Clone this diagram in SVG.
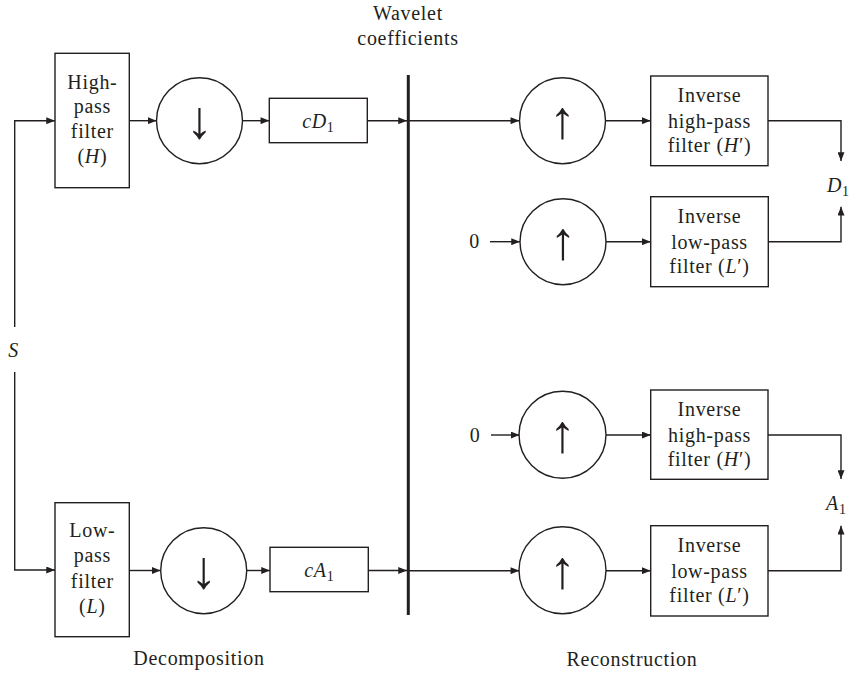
<svg xmlns="http://www.w3.org/2000/svg" width="856" height="673" viewBox="0 0 856 673">
<defs>
<marker id="ah" viewBox="0 0 10 8" refX="10" refY="4" markerWidth="9" markerHeight="7" markerUnits="userSpaceOnUse" orient="auto">
<path d="M0,0 L10,4 L0,8 Z" fill="#231f20"/>
</marker>
<style>
.box{fill:#fff;stroke:#231f20;stroke-width:1.4}
.c{fill:none;stroke:#231f20;stroke-width:1.4}
.ln{fill:none;stroke:#231f20;stroke-width:1.4}
.arr{fill:none;stroke:#231f20;stroke-width:1.4;marker-end:url(#ah)}
text{font-family:"Liberation Serif","Times New Roman",serif;font-size:20px;letter-spacing:0.7px;fill:#231f20;text-anchor:middle}
.sym{font-size:53px;letter-spacing:0}
.it{font-style:italic}
.sub{font-size:14px;letter-spacing:0}
</style>
</defs>
<rect width="856" height="673" fill="#fff"/>

<g id="connectors">
<line class="ln" x1="14.7" y1="120.7" x2="14.7" y2="327"/>
<line class="ln" x1="14.7" y1="372" x2="14.7" y2="570"/>
<line class="arr" x1="14" y1="120.7" x2="55" y2="120.7"/>
<line class="arr" x1="14" y1="570" x2="55" y2="570"/>
<line class="arr" x1="129" y1="120.7" x2="156.5" y2="120.7"/>
<line class="arr" x1="242.3" y1="120.7" x2="269.3" y2="120.7"/>
<line class="arr" x1="367.3" y1="120.7" x2="407" y2="120.7"/>
<line class="arr" x1="408" y1="120.7" x2="519.3" y2="120.7"/>
<line class="arr" x1="129" y1="570.5" x2="160.5" y2="570.5"/>
<line class="arr" x1="246.7" y1="570.5" x2="270" y2="570.5"/>
<line class="arr" x1="368.3" y1="570.5" x2="407" y2="570.5"/>
<line class="arr" x1="408" y1="570.7" x2="519.3" y2="570.7"/>
<line class="arr" x1="605.7" y1="120.7" x2="650.7" y2="120.7"/>
<line class="arr" x1="606" y1="241.7" x2="650.7" y2="241.7"/>
<line class="arr" x1="606" y1="435" x2="650.7" y2="435"/>
<line class="arr" x1="606" y1="570.7" x2="650.7" y2="570.7"/>
<line class="arr" x1="490" y1="241.7" x2="520" y2="241.7"/>
<line class="arr" x1="491" y1="435" x2="519.5" y2="435"/>
<polyline class="arr" points="768,120.7 841,120.7 841,161"/>
<polyline class="arr" points="768,241.7 841,241.7 841,206.7"/>
<polyline class="arr" points="768,435 841,435 841,479"/>
<polyline class="arr" points="768,570.7 841,570.7 841,525.7"/>
<line x1="408.3" y1="75" x2="408.3" y2="615" stroke="#231f20" stroke-width="3"/>
</g>

<g id="S"><text x="13.5" y="357" class="it">S</text></g>

<g id="hp">
<rect class="box" x="55" y="53.3" width="74.3" height="134.4"/>
<text x="92.4" y="88.5">High-</text>
<text x="92.4" y="112.5">pass</text>
<text x="92.4" y="138">filter</text>
<text x="92.4" y="162.5">(<tspan class="it">H</tspan>)</text>
</g>
<g id="down1">
<circle class="c" cx="199.5" cy="120.7" r="43"/>
<text class="sym" x="199.5" y="138">↓</text>
</g>
<g id="cD1">
<rect class="box" x="269.3" y="98.3" width="98" height="44.4"/>
<text x="318" y="128.3" class="it">cD<tspan class="sub" font-style="normal" dy="4">1</tspan></text>
</g>

<g id="lp">
<rect class="box" x="55" y="502.7" width="74.3" height="134"/>
<text x="92.4" y="536.7">Low-</text>
<text x="92.4" y="562">pass</text>
<text x="92.4" y="587.5">filter</text>
<text x="92.4" y="612.5">(<tspan class="it">L</tspan>)</text>
</g>
<g id="down2">
<circle class="c" cx="203.7" cy="570.7" r="43"/>
<text class="sym" x="203.7" y="588">↓</text>
</g>
<g id="cA1">
<rect class="box" x="270" y="547.3" width="98.3" height="44.4"/>
<text x="319" y="577.3" class="it">cA<tspan class="sub" font-style="normal" dy="4">1</tspan></text>
</g>

<g id="wavelet">
<text x="408" y="20">Wavelet</text>
<text x="408" y="45">coefficients</text>
</g>

<g id="up1">
<circle class="c" cx="562.5" cy="120.7" r="43"/>
<text class="sym" x="562.5" y="138">↑</text>
</g>
<g id="ihp1">
<rect class="box" x="650.7" y="76" width="117.3" height="89.7"/>
<text x="709.5" y="102">Inverse</text>
<text x="709.5" y="127.5">high-pass</text>
<text x="709.5" y="152">filter (<tspan class="it">H</tspan>′)</text>
</g>
<g id="zero1"><text x="474.5" y="248">0</text></g>
<g id="up2">
<circle class="c" cx="563" cy="241.7" r="43"/>
<text class="sym" x="563" y="259">↑</text>
</g>
<g id="ilp1">
<rect class="box" x="650.7" y="196.7" width="117.6" height="90"/>
<text x="709.5" y="223">Inverse</text>
<text x="709.5" y="248.5">low-pass</text>
<text x="709.5" y="273">filter (<tspan class="it">L</tspan>′)</text>
</g>
<g id="D1"><text x="838" y="191.5" class="it">D<tspan class="sub" font-style="normal" dy="4">1</tspan></text></g>

<g id="zero2"><text x="475" y="441.5">0</text></g>
<g id="up3">
<circle class="c" cx="562.5" cy="434.7" r="43.5"/>
<text class="sym" x="562.5" y="452">↑</text>
</g>
<g id="ihp2">
<rect class="box" x="650.7" y="390" width="117.3" height="89.3"/>
<text x="709.5" y="416">Inverse</text>
<text x="709.5" y="441.5">high-pass</text>
<text x="709.5" y="466">filter (<tspan class="it">H</tspan>′)</text>
</g>
<g id="up4">
<circle class="c" cx="562.5" cy="570.3" r="43.5"/>
<text class="sym" x="562.5" y="587.5">↑</text>
</g>
<g id="ilp2">
<rect class="box" x="650.7" y="525.7" width="117.3" height="90.3"/>
<text x="709.5" y="552">Inverse</text>
<text x="709.5" y="577.5">low-pass</text>
<text x="709.5" y="602">filter (<tspan class="it">L</tspan>′)</text>
</g>
<g id="A1"><text x="836" y="510" class="it">A<tspan class="sub" font-style="normal" dy="4">1</tspan></text></g>

<g id="labels">
<text x="199" y="665">Decomposition</text>
<text x="632" y="666">Reconstruction</text>
</g>
</svg>
